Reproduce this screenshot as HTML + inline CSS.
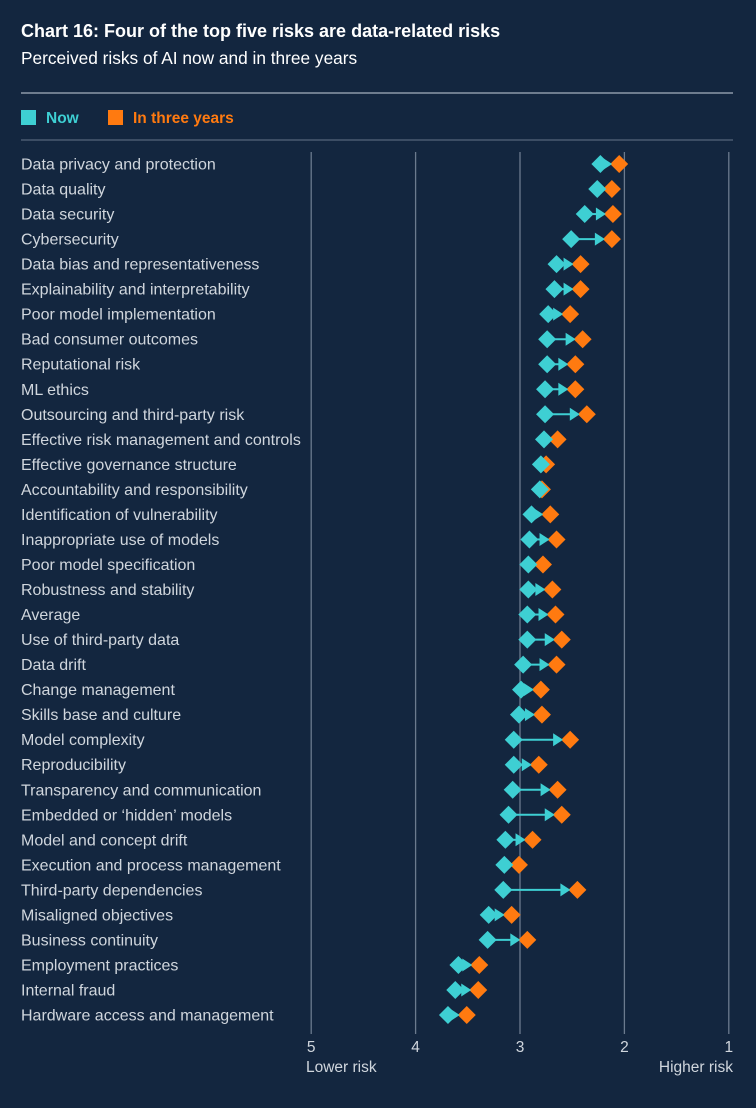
<!DOCTYPE html>
<html><head><meta charset="utf-8"><style>
body{margin:0;background:#13263f;font-family:"Liberation Sans",sans-serif;}
svg{display:block}
</style></head><body>
<svg id="c" width="756" height="1108" viewBox="0 0 756 1108" xmlns="http://www.w3.org/2000/svg">
<rect width="756" height="1108" fill="#13263f"/>
<text x="21" y="37" font-size="18" font-weight="bold" fill="#ffffff">Chart 16: Four of the top five risks are data-related risks</text>
<text x="21" y="64" font-size="17.3" fill="#ffffff">Perceived risks of AI now and in three years</text>
<line x1="21" y1="93" x2="733" y2="93" stroke="#8d99a8" stroke-width="1.5"/>
<rect x="21" y="110" width="15" height="15" fill="#3ecfd3"/>
<text x="46" y="123" font-size="15.5" font-weight="bold" fill="#3ecfd3">Now</text>
<rect x="108" y="110" width="15" height="15" fill="#ff7a10"/>
<text x="133" y="123" font-size="15.5" font-weight="bold" fill="#ff7a10">In three years</text>
<line x1="21" y1="140" x2="733" y2="140" stroke="#4a5a70" stroke-width="1.5"/>
<g id="grid"></g><g id="labels"></g><g id="marks"></g>
<text x="306" y="1072" font-size="15.5" fill="#d0d6dd">Lower risk</text>
<text x="733" y="1072" font-size="15.5" fill="#d0d6dd" text-anchor="end">Higher risk</text>
</svg>
<script>
const categories=["Data privacy and protection","Data quality","Data security","Cybersecurity","Data bias and representativeness","Explainability and interpretability","Poor model implementation","Bad consumer outcomes","Reputational risk","ML ethics","Outsourcing and third-party risk","Effective risk management and controls","Effective governance structure","Accountability and responsibility","Identification of vulnerability","Inappropriate use of models","Poor model specification","Robustness and stability","Average","Use of third-party data","Data drift","Change management","Skills base and culture","Model complexity","Reproducibility","Transparency and communication","Embedded or \u2018hidden\u2019 models","Model and concept drift","Execution and process management","Third-party dependencies","Misaligned objectives","Business continuity","Employment practices","Internal fraud","Hardware access and management"];
const nowValues=[2.23,2.26,2.38,2.51,2.65,2.67,2.73,2.74,2.74,2.76,2.76,2.77,2.80,2.81,2.89,2.91,2.92,2.92,2.93,2.93,2.97,2.99,3.01,3.06,3.06,3.07,3.11,3.14,3.15,3.16,3.30,3.31,3.59,3.62,3.69];
const futureValues=[2.05,2.12,2.11,2.12,2.42,2.42,2.52,2.40,2.47,2.47,2.36,2.64,2.75,2.79,2.71,2.65,2.78,2.69,2.66,2.60,2.65,2.80,2.79,2.52,2.82,2.64,2.60,2.88,3.01,2.45,3.08,2.93,3.39,3.40,3.51];
const ticks=[5,4,3,2,1];
const NS="http://www.w3.org/2000/svg";
const xScale=v=>520-(v-3)*104.4;
const yScale=i=>164+i*25.03;
function mk(tag,attrs,parent){const e=document.createElementNS(NS,tag);for(const k in attrs)e.setAttribute(k,attrs[k]);parent.appendChild(e);return e;}
const G=document.getElementById('grid'),L=document.getElementById('labels'),M=document.getElementById('marks');
ticks.forEach(t=>{
 const x=xScale(t);
 const l=mk('line',{x1:x,y1:152,x2:x,y2:1034,stroke:'#6b7a8e','stroke-width':1.3},G);
 
 
 const tx=mk('text',{x:x,y:1052,'font-size':15.5,fill:'#d0d6dd','text-anchor':'middle'},G);
 tx.textContent=t;
 
 
});
const d=9;
function diamond(x,y,c){return mk('polygon',{points:`${x},${y-d} ${x+d},${y} ${x},${y+d} ${x-d},${y}`,fill:c},M);}
categories.forEach((c,i)=>{
 const y=yScale(i);
 const t=mk('text',{x:21,y:y+5.5,'font-size':16,fill:'#d0d6dd'},L);
 t.textContent=c;
 
 
 const xn=xScale(nowValues[i]),xf=xScale(futureValues[i]);
 const tip=xf-d+2;
 const hasArrow=tip-xn>8;
 if(hasArrow){
  const ln=mk('line',{x1:xn,y1:y,x2:tip-6,y2:y,stroke:'#3ecfd3','stroke-width':2},M);
  
  
 }
 const f=diamond(xf,y,'#ff7a10');
 
 
 const n=diamond(xn,y,'#3ecfd3');
 
 
 if(hasArrow){
  const ah=mk('polygon',{points:`${tip},${y} ${tip-10},${y-6.5} ${tip-10},${y+6.5}`,fill:'#3ecfd3'},M);
  
  
 }
});
</script>
</body></html>
